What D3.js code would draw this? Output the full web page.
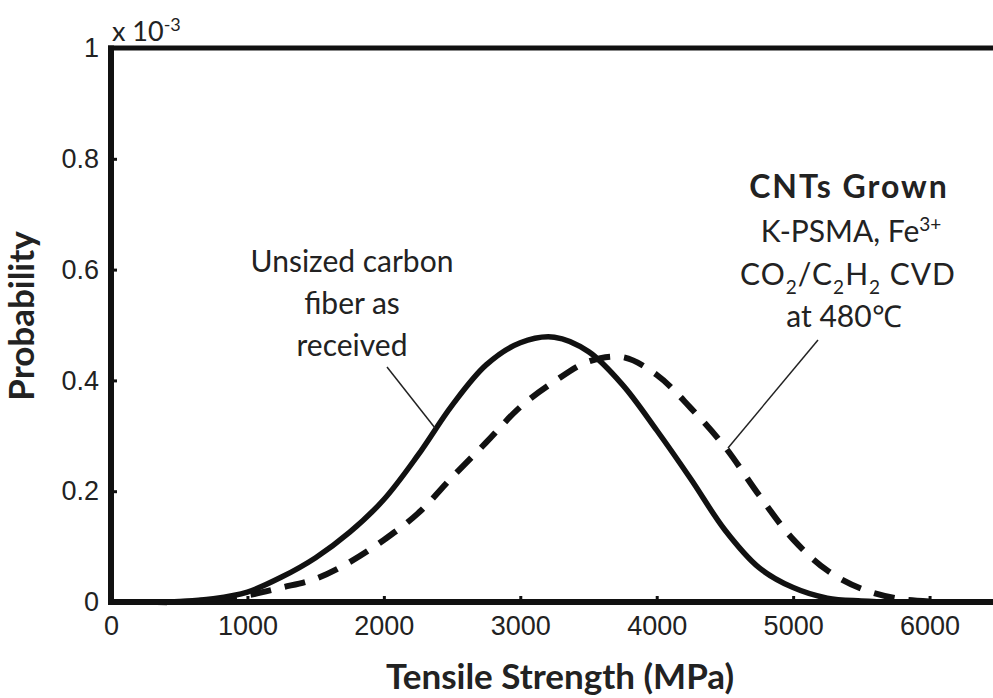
<!DOCTYPE html>
<html>
<head>
<meta charset="utf-8">
<script src="https://cdn.jsdelivr.net/npm/d3@7"></script>
<style>
  body { margin: 0; background: #fff; }
  svg { display: block; font-family: Lato, "Open Sans", sans-serif; }
</style>
</head>
<body>
<svg id="chart" width="993" height="698"></svg>
<script>
// tensile strength (MPa) grid and probability density (x 10^-3)
const strength = [0, 250, 500, 750, 1000, 1250, 1500, 1750, 2000, 2250, 2500, 2750, 3000,
  3250, 3500, 3750, 4000, 4250, 4500, 4750, 5000, 5250, 5500, 5750, 6000, 6500, 7000];
const unsized = [0, 0, 0.001, 0.006, 0.018, 0.045, 0.08, 0.126, 0.185, 0.265, 0.355, 0.428, 0.468,
  0.478, 0.452, 0.392, 0.31, 0.222, 0.13, 0.062, 0.026, 0.007, 0.002, 0, 0, 0, 0];
const cntGrown = [0, 0, 0, 0.004, 0.012, 0.026, 0.042, 0.072, 0.112, 0.16, 0.225, 0.288, 0.352,
  0.398, 0.434, 0.442, 0.41, 0.35, 0.28, 0.193, 0.113, 0.057, 0.024, 0.007, 0.001, 0, 0];
const xTicks = [0, 1000, 2000, 3000, 4000, 5000, 6000];
const yTicks = [0, 0.2, 0.4, 0.6, 0.8, 1];

const svg = d3.select('#chart');
const x = d3.scaleLinear().domain([0, 7000]).range([111, 1066]);
const y = d3.scaleLinear().domain([0, 1]).range([602, 48]);

// frame
svg.append('line').attr('x1', 108).attr('x2', 1066).attr('y1', y(1)).attr('y2', y(1))
  .attr('stroke', '#111').attr('stroke-width', 5);

const xAxis = svg.append('g').attr('transform', `translate(0,${y(0)})`)
  .call(d3.axisBottom(x).tickValues(xTicks).tickSize(-6).tickSizeOuter(0).tickPadding(14)
    .tickFormat(d3.format('d')));
const yAxis = svg.append('g').attr('transform', `translate(${x(0)},0)`)
  .call(d3.axisLeft(y).tickValues(yTicks).tickSize(-6).tickSizeOuter(0).tickPadding(12)
    .tickFormat(d => d === 0 ? '0' : d === 1 ? '1' : d3.format('.1f')(d)));
[xAxis, yAxis].forEach(a => {
  a.select('.domain').attr('stroke', '#111').attr('stroke-width', 6);
  a.selectAll('.tick line').attr('stroke', '#111').attr('stroke-width', 3);
  a.selectAll('.tick text').attr('fill', '#222').style('font-size', '27px');
});
xAxis.select('.domain').attr('d', `M${x(0) - 3},0H1066`);
yAxis.select('.domain').attr('d', `M0,${y(0) + 3}V${y(1) - 2.5}`);

// multiplier
const mult = svg.append('text').attr('x', 112).attr('y', 41).attr('fill', '#222')
  .style('font-size', '27px');
mult.append('tspan').text('x 10');
mult.append('tspan').attr('dy', -10).style('font-size', '18px').text('-3');

// curves
const line = d3.line().x((d, i) => x(strength[i])).y(d => y(d)).curve(d3.curveCatmullRom.alpha(0.5));
svg.append('path').datum(cntGrown).attr('d', line).attr('fill', 'none')
  .attr('stroke', '#111').attr('stroke-width', 6).attr('stroke-dasharray', '21,14');
svg.append('path').datum(unsized).attr('d', line).attr('fill', 'none')
  .attr('stroke', '#111').attr('stroke-width', 5.5);

// annotations
const ann1 = svg.append('text').attr('text-anchor', 'middle').attr('fill', '#222')
  .style('font-size', '30px');
['Unsized carbon', 'fiber as', 'received'].forEach((t, i) => {
  ann1.append('tspan').attr('x', 352).attr('y', 272 + i * 42).text(t);
});
svg.append('line').attr('x1', 387).attr('y1', 367).attr('x2', 435).attr('y2', 428)
  .attr('stroke', '#222').attr('stroke-width', 1.5);

const ann2 = svg.append('g').attr('fill', '#222').attr('text-anchor', 'middle');
ann2.append('text').attr('x', 849).attr('y', 198).style('font-size', '32px')
  .style('font-weight', 'bold').style('letter-spacing', '2px').text('CNTs Grown');
const l2 = ann2.append('text').attr('x', 851).attr('y', 242).style('font-size', '30px');
l2.append('tspan').text('K-PSMA, Fe');
l2.append('tspan').attr('dy', -11).style('font-size', '19px').text('3+');
const l3 = ann2.append('text').attr('x', 848).attr('y', 285).style('font-size', '30px')
  .style('letter-spacing', '1px');
l3.append('tspan').text('CO');
l3.append('tspan').attr('dy', 9).style('font-size', '19px').text('2');
l3.append('tspan').attr('dy', -9).text('/C');
l3.append('tspan').attr('dy', 9).style('font-size', '19px').text('2');
l3.append('tspan').attr('dy', -9).text('H');
l3.append('tspan').attr('dy', 9).style('font-size', '19px').text('2');
l3.append('tspan').attr('dy', -9).text(' CVD');
ann2.append('text').attr('x', 844).attr('y', 327).style('font-size', '30px').text('at 480\u2103');
svg.append('line').attr('x1', 818).attr('y1', 340).attr('x2', 728).attr('y2', 448)
  .attr('stroke', '#222').attr('stroke-width', 1.5);

// axis titles
svg.append('text').attr('x', 560).attr('y', 689).attr('text-anchor', 'middle')
  .attr('fill', '#222').style('font-size', '35px').style('font-weight', 'bold')
  .text('Tensile Strength (MPa)');
svg.append('text').attr('transform', 'translate(34,316) rotate(-90)').attr('text-anchor', 'middle')
  .attr('fill', '#222').style('font-size', '35px').style('font-weight', 'bold')
  .text('Probability');
</script>
</body>
</html>
